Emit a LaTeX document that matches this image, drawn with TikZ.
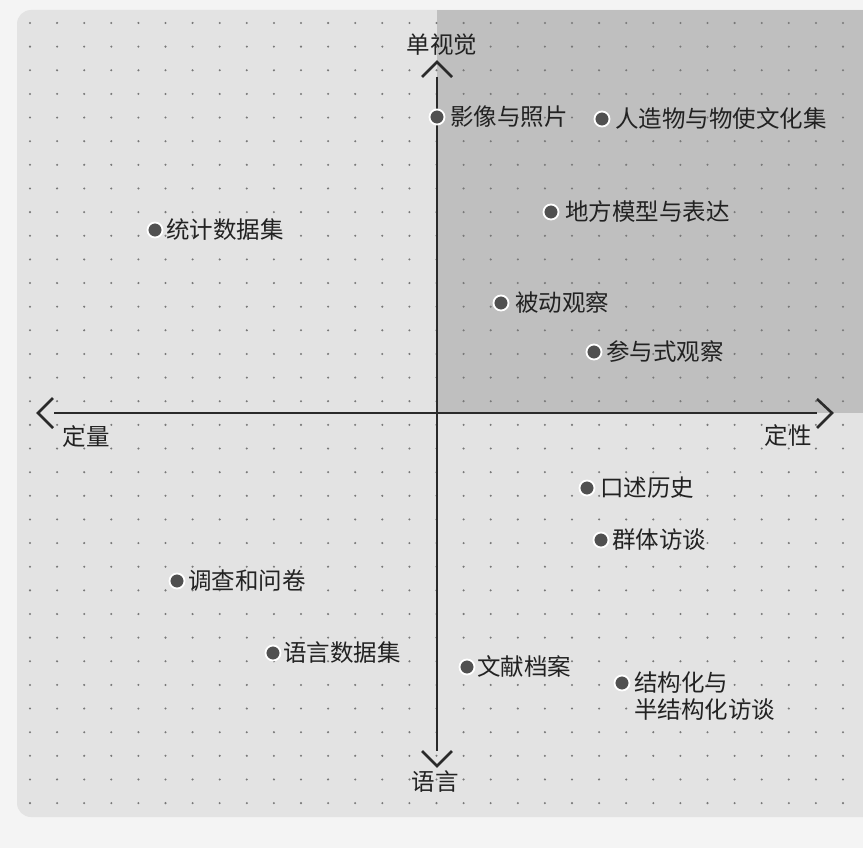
\documentclass[tikz,border=0pt]{standalone}
\usepackage{fontspec}
\setmainfont{Noto Sans CJK SC}
\definecolor{bgout}{HTML}{F4F4F4}
\definecolor{panel}{HTML}{E3E3E3}
\definecolor{darkq}{HTML}{BFBFBF}
\definecolor{griddot}{HTML}{787878}
\definecolor{ptcol}{HTML}{505050}
\definecolor{txtcol}{HTML}{222222}
\definecolor{axcol}{HTML}{2A2A2A}
\begin{document}
\begin{tikzpicture}[x=1pt,y=-1pt,
  ptdot/.style={circle, fill=ptcol, draw=white, line width=1.8pt, minimum size=15pt, inner sep=0pt},
  lbl/.style={anchor=west, inner sep=0pt, text=txtcol, font=\fontsize{23.5}{29}\selectfont, text height=20pt, text depth=3pt},
  axlbl/.style={inner sep=0pt, text=txtcol, font=\fontsize{23.5}{29}\selectfont, text height=20pt, text depth=3pt},
  axline/.style={draw=axcol, line width=2.8pt},
  chev/.style={draw=axcol, line width=2.6pt, line join=miter}]
\useasboundingbox (0,0) rectangle (863,848);
\fill[bgout] (0,0) rectangle (863,848);
\fill[panel, rounded corners=14pt] (17,10) rectangle (900,817);
\fill[darkq] (437,10) rectangle (863,413);
% dot grid
\foreach \i in {0,...,30} {
  \foreach \j in {0,...,33} {
    \fill[griddot] ({30+27.1*\i},{23+23.64*\j}) circle (1.15pt);
  }
}
% axes coordinates
\coordinate (vtop) at (437,77);
\coordinate (vbot) at (437,751);
\coordinate (hleft) at (54,413);
\coordinate (hright) at (817,413);
\coordinate (tipT) at (437,62);
\coordinate (tipB) at (437,766);
\coordinate (tipL) at (38,413);
\coordinate (tipR) at (832,413);
\draw[axline] (vtop) -- (vbot);
\draw[axline] (hleft) -- (hright);
\draw[chev] (422,77) -- (tipT) -- (452,77);
\draw[chev] (422,751) -- (tipB) -- (452,751);
\draw[chev] (53,398) -- (tipL) -- (53,428);
\draw[chev] (817,399) -- (tipR) -- (817,428);
% axis labels
\node[axlbl] (lt) at (442,45) {单视觉};
\node[axlbl] (lb) at (435,782) {语言};
\node[axlbl] (ll) at (86,437) {定量};
\node[axlbl] (lr) at (788,436) {定性};
% points
\node[ptdot] (p1) at (437,117) {};
\node[lbl] (t1) at (450,117) {影像与照片};
\node[ptdot] (p2) at (602,119) {};
\node[lbl] (t2) at (615,119) {人造物与物使文化集};
\node[ptdot] (p3) at (551,212) {};
\node[lbl] (t3) at (565,212) {地方模型与表达};
\node[ptdot] (p4) at (155,230) {};
\node[lbl] (t4) at (166,230) {统计数据集};
\node[ptdot] (p5) at (501,303) {};
\node[lbl] (t5) at (515,303) {被动观察};
\node[ptdot] (p6) at (594,352) {};
\node[lbl] (t6) at (606,352) {参与式观察};
\node[ptdot] (p7) at (587,488) {};
\node[lbl] (t7) at (600,488) {口述历史};
\node[ptdot] (p8) at (601,540) {};
\node[lbl] (t8) at (612,540) {群体访谈};
\node[ptdot] (p9) at (177,581) {};
\node[lbl] (t9) at (188,581) {调查和问卷};
\node[ptdot] (p10) at (273,653) {};
\node[lbl] (t10) at (283,653) {语言数据集};
\node[ptdot] (p11) at (467,667) {};
\node[lbl] (t11) at (477,667) {文献档案};
\node[ptdot] (p12) at (622,683) {};
\node[lbl] (t12) at (634,683) {结构化与};
\node[lbl] (t13) at (634,710) {半结构化访谈};
\end{tikzpicture}
\end{document}
